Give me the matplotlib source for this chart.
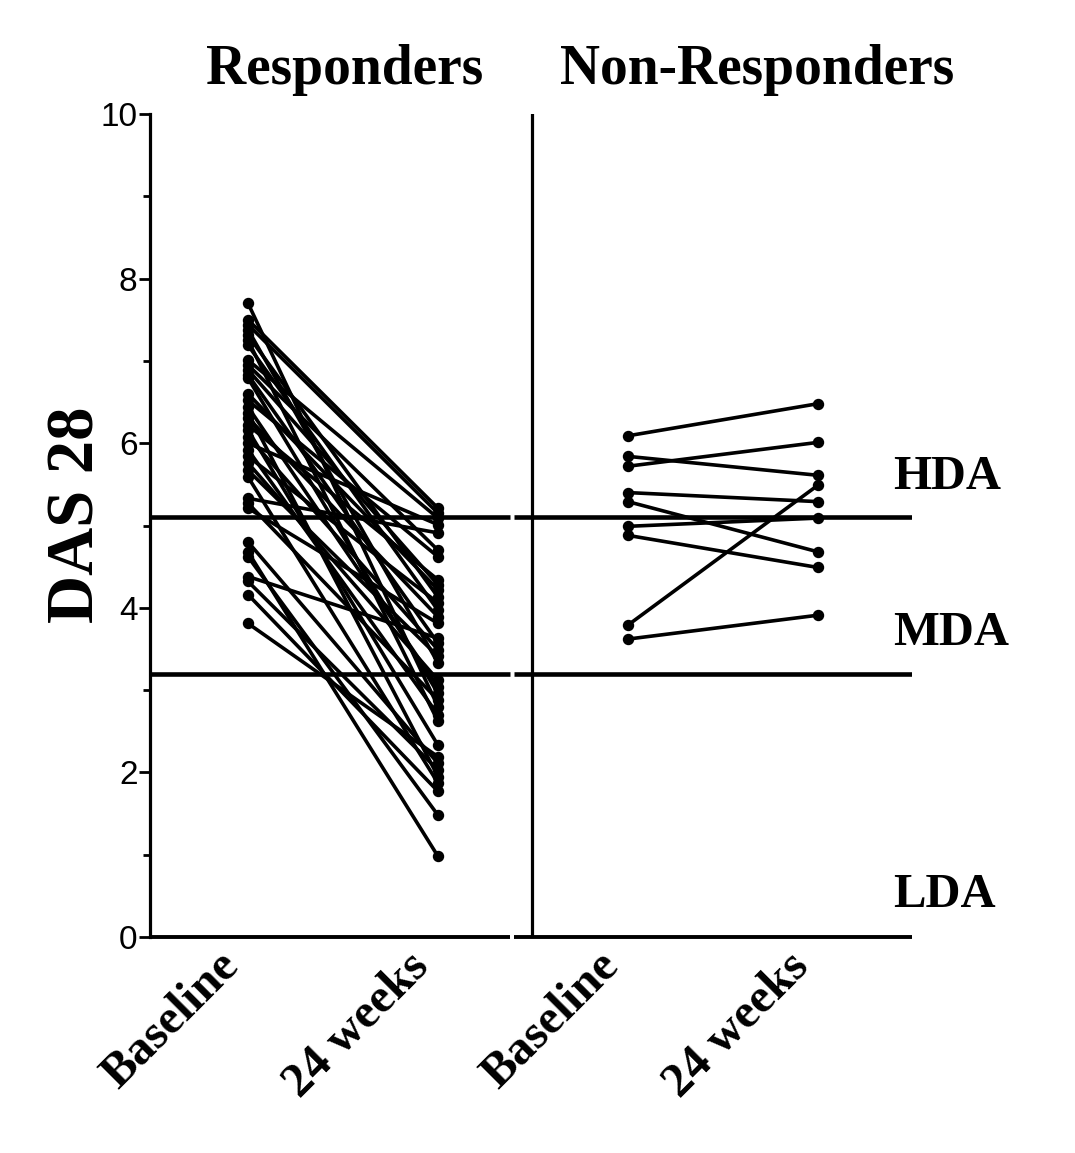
import matplotlib
matplotlib.use("Agg")
import matplotlib.pyplot as plt
import matplotlib.transforms as mtransforms
import numpy as np

# ---------------- data ----------------
groups = ["Responders", "Non-Responders"]
timepoints = ["Baseline", "24 weeks"]
tick_labels = ["Baseline", "24 weeks", "Baseline", "24 weeks"]

resp_baseline = [7.70, 7.50, 7.44, 7.38, 7.31, 7.25, 7.19, 7.01, 6.95, 6.89,
                 6.83, 6.79, 6.60, 6.52, 6.44, 6.37, 6.31, 6.22, 6.16, 6.08,
                 6.00, 5.92, 5.84, 5.76, 5.67, 5.59, 5.33, 5.27, 5.21, 4.80,
                 4.68, 4.62, 4.38, 4.32, 4.16, 3.81]
resp_week24 = [2.80, 5.21, 5.15, 3.33, 4.13, 2.62, 3.97, 5.09, 4.70, 4.28,
               3.57, 2.96, 4.22, 4.62, 3.04, 1.95, 3.89, 4.34, 2.33, 3.49,
               5.01, 2.70, 4.06, 3.12, 3.41, 1.87, 4.91, 2.88, 3.81, 2.11,
               0.98, 1.48, 3.63, 2.03, 1.77, 2.19]

nonresp_baseline = [6.09, 5.84, 5.72, 5.40, 5.29, 4.99, 4.88, 3.79, 3.62]
nonresp_week24 = [6.48, 5.61, 6.01, 5.29, 4.68, 5.09, 4.49, 5.49, 3.91]

thresholds = [5.1, 3.2]
zone_labels = ["HDA", "MDA", "LDA"]
zone_label_y = [5.59, 3.69, 0.51]

# ---------------- figure ----------------
W, H = 1075, 1153
fig = plt.figure(figsize=(W / 100, H / 100), dpi=100)
left, right, bottom, top = 150 / W, 912 / W, 1 - 937 / H, 1 - 114 / H
ax = fig.add_axes([left, bottom, right - left, top - bottom])

xpos = np.array([1, 2, 3, 4])
ax.set_xlim(0.484, 4.495)
ax.set_ylim(0, 10)

line_kw = dict(color="black", lw=2.6, marker="o", ms=7.2, solid_capstyle="round")
for b, w in zip(resp_baseline, resp_week24):
    ax.plot(xpos[:2], [b, w], **line_kw, zorder=3)
for b, w in zip(nonresp_baseline, nonresp_week24):
    ax.plot(xpos[2:], [b, w], **line_kw, zorder=3)

# threshold lines (with small break like the x axis)
gap_l, gap_r = 2.378, 2.40
xl0, xl1 = ax.get_xlim()
for t in thresholds:
    ax.plot([xl0, gap_l], [t, t], color="black", lw=3.3, solid_capstyle="butt", zorder=2)
    ax.plot([gap_r, xl1], [t, t], color="black", lw=3.3, solid_capstyle="butt", zorder=2)

# x axis line with break
ax.plot([xl0, gap_l], [0, 0], color="black", lw=2.8, solid_capstyle="butt", clip_on=False, zorder=4)
ax.plot([gap_r, xl1], [0, 0], color="black", lw=2.8, solid_capstyle="butt", clip_on=False, zorder=4)

# vertical divider
ax.axvline(2.495, ymin=0, ymax=1, color="black", lw=2.3, zorder=2)

# spines
for s in ["top", "right", "bottom"]:
    ax.spines[s].set_visible(False)
ax.spines["left"].set_linewidth(2.3)

# y ticks
ax.set_yticks([0, 2, 4, 6, 8, 10])
ax.set_yticks([1, 3, 5, 7, 9], minor=True)
ax.tick_params(axis="y", which="major", direction="out", length=8, width=2.0,
               labelsize=24, pad=1)
ax.tick_params(axis="y", which="minor", direction="out", length=5, width=2.0)
for lab in ax.get_yticklabels():
    lab.set_family(["Liberation Sans", "DejaVu Sans"])

# x ticks
ax.set_xticks(xpos)
ax.set_xticklabels(tick_labels, rotation=45, ha="right", va="top",
                   fontsize=35, fontweight="bold",
                   family=["Liberation Serif", "DejaVu Serif"])
ax.tick_params(axis="x", which="major", direction="out", length=0, width=2.0, pad=5)

# y label
ax.text(-0.096, 0.513, "DAS 28", transform=ax.transAxes, rotation=90,
        ha="center", va="center", fontsize=48, fontweight="bold",
        family=["Liberation Serif", "DejaVu Serif"])

# group titles
trans = mtransforms.blended_transform_factory(ax.transData, ax.transAxes)
title_x = [1.51, 3.68]
for gx, g in zip(title_x, groups):
    ax.text(gx, 1.053, g, transform=trans, ha="center", va="center",
            fontsize=40, fontweight="bold",
            family=["Liberation Serif", "DejaVu Serif"], clip_on=False)

# zone labels
for lab, ly in zip(zone_labels, zone_label_y):
    ax.text(4.395, ly, lab, ha="left", va="center", fontsize=35, fontweight="bold",
            family=["Liberation Serif", "DejaVu Serif"], clip_on=False)

fig.savefig("out.png", dpi=100)
